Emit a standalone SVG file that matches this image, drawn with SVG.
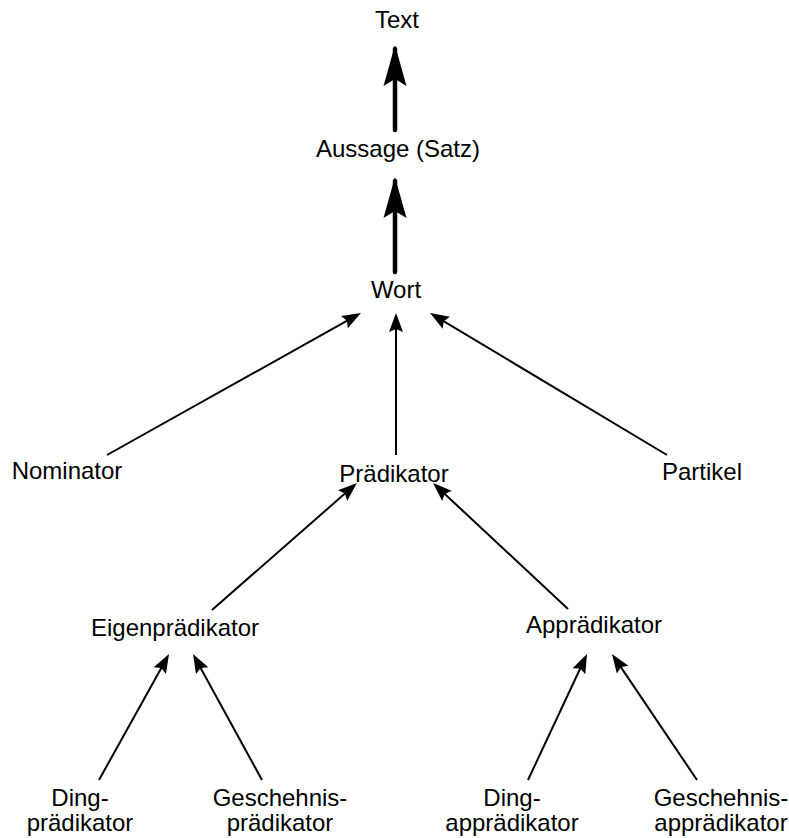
<svg xmlns="http://www.w3.org/2000/svg" width="789" height="838" viewBox="0 0 789 838">
<style>
  text { font-family: "Liberation Sans", Arial, sans-serif; font-size: 24px; fill: #000; text-anchor: middle; }
  .thin { stroke: #000; stroke-width: 2; fill: none; marker-end: url(#ah); }
  .thick { stroke: #000; stroke-width: 4.5; fill: none; stroke-linecap: round; marker-end: url(#ahThick); }
</style>
<defs>
  <marker id="ah" markerUnits="userSpaceOnUse" orient="auto" refX="0" refY="0" markerWidth="30" markerHeight="30" overflow="visible">
    <path d="M5,0 L-14,-7 L-11,0 L-14,7 Z" fill="#000"/>
  </marker>
  <marker id="ahThick" markerUnits="userSpaceOnUse" orient="auto" refX="0" refY="0" markerWidth="50" markerHeight="30" overflow="visible">
    <path d="M4,0 L-37,-11.5 L-30,0 L-37,11.5 Z" fill="#000"/>
  </marker>
</defs>
<rect width="789" height="838" fill="#fff"/>
<g id="connectors">
  <line class="thick" x1="395" y1="130" x2="395" y2="49"/>
  <line class="thick" x1="395" y1="272" x2="395" y2="181"/>
  <line class="thin" x1="107" y1="455" x2="356.6" y2="315.4"/>
  <line class="thin" x1="396" y1="455" x2="396" y2="318"/>
  <line class="thin" x1="667" y1="455" x2="434.3" y2="315.6"/>
  <line class="thin" x1="212" y1="610" x2="353.2" y2="486.3"/>
  <line class="thin" x1="568" y1="609" x2="436.7" y2="486.4"/>
  <line class="thin" x1="99" y1="780" x2="166.6" y2="658.4"/>
  <line class="thin" x1="262" y1="780" x2="195.4" y2="658.4"/>
  <line class="thin" x1="528" y1="780" x2="584.9" y2="658.5"/>
  <line class="thin" x1="697" y1="780" x2="614.8" y2="658.1"/>
</g>
<g id="n-text"><text x="397" y="28">Text</text></g>
<g id="n-aussage"><text x="398" y="157">Aussage (Satz)</text></g>
<g id="n-wort"><text x="396" y="298">Wort</text></g>
<g id="n-nominator"><text x="67" y="479">Nominator</text></g>
<g id="n-praedikator"><text x="394" y="482">Prädikator</text></g>
<g id="n-partikel"><text x="702" y="480">Partikel</text></g>
<g id="n-eigenpraedikator"><text x="175" y="636">Eigenprädikator</text></g>
<g id="n-appraedikator"><text x="594" y="633">Apprädikator</text></g>
<g id="n-dingpraedikator"><text x="80" y="806">Ding-</text><text x="80" y="831">prädikator</text></g>
<g id="n-geschehnispraedikator"><text x="280" y="806">Geschehnis-</text><text x="280" y="831">prädikator</text></g>
<g id="n-dingappraedikator"><text x="512" y="806">Ding-</text><text x="512" y="831">apprädikator</text></g>
<g id="n-geschehnisappraedikator"><text x="721" y="806">Geschehnis-</text><text x="721" y="831">apprädikator</text></g>
</svg>
